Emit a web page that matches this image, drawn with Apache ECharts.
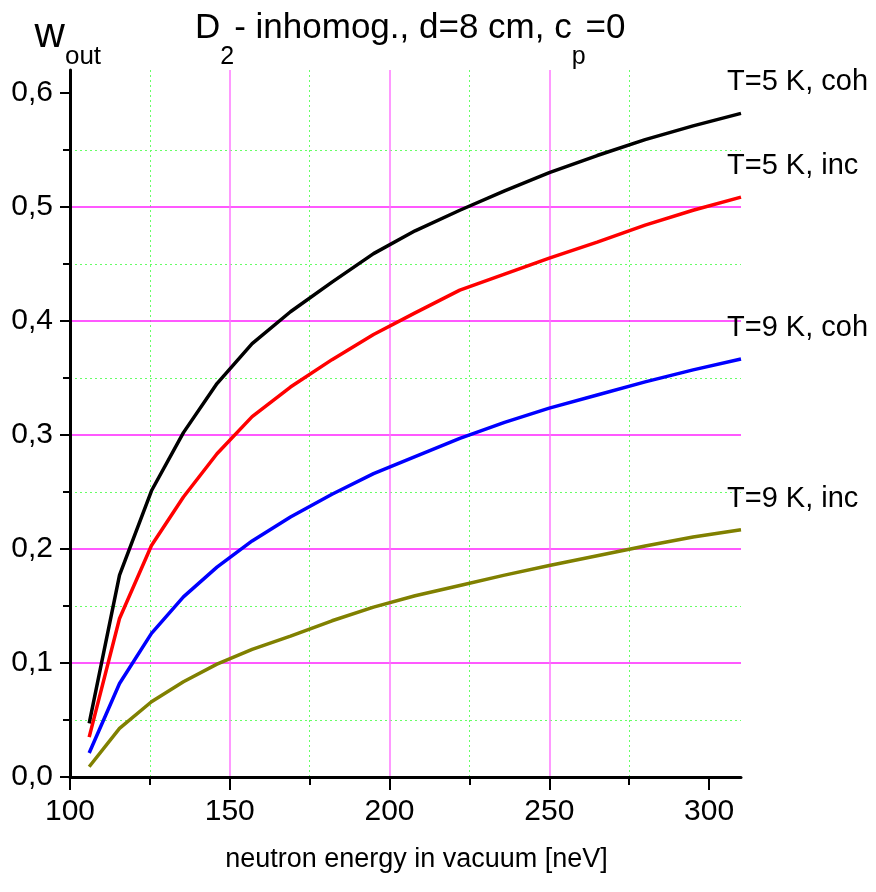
<!DOCTYPE html>
<html>
<head>
<meta charset="utf-8">
<script src="https://cdn.jsdelivr.net/npm/echarts@6/dist/echarts.min.js"></script>
<style>
html,body{margin:0;padding:0;background:#fff;}
#chart{width:876px;height:892px;}
</style>
</head>
<body>
<div id="chart"></div>
<script>
const energy = [106, 115.5, 125.5, 135.5, 146, 157, 169, 182, 195, 208, 222, 236, 250, 265, 280, 295, 310];
const t5coh = [0.047, 0.177, 0.251, 0.302, 0.345, 0.380, 0.408, 0.434, 0.459, 0.479, 0.497, 0.514, 0.530, 0.545, 0.559, 0.571, 0.582];
const t5inc = [0.035, 0.139, 0.203, 0.2455, 0.2835, 0.316, 0.342, 0.366, 0.388, 0.407, 0.427, 0.441, 0.455, 0.469, 0.484, 0.497, 0.5085];
const t9coh = [0.021, 0.082, 0.126, 0.158, 0.184, 0.207, 0.228, 0.248, 0.266, 0.281, 0.297, 0.311, 0.3235, 0.335, 0.3465, 0.357, 0.3665];
const t9inc = [0.009, 0.0426, 0.066, 0.0835, 0.099, 0.112, 0.1235, 0.137, 0.149, 0.159, 0.168, 0.177, 0.1855, 0.194, 0.2025, 0.2105, 0.2169];
const seriesNames = ['T=5 K, coh', 'T=5 K, inc', 'T=9 K, coh', 'T=9 K, inc'];
const seriesColors = ['#000000', '#ff0000', '#0000ff', '#808000'];
const xMajorTicks = [100, 150, 200, 250, 300];
const xMinorTicks = [100, 125, 150, 175, 200, 225, 250, 275, 300];
const yMajorTicks = [0, 0.1, 0.2, 0.3, 0.4, 0.5, 0.6];
const yMinorTicks = [0, 0.05, 0.1, 0.15, 0.2, 0.25, 0.3, 0.35, 0.4, 0.45, 0.5, 0.55, 0.6];

const FONT = "'Liberation Sans Narrow', 'Arial Narrow', 'Liberation Sans', Arial, sans-serif";
const values = [t5coh, t5inc, t9coh, t9inc];
const GREEN = '#66ff66';
const MAGENTA = '#ff22ff';
const PINK = '#ff77ff';
const NONE = 'rgba(0,0,0,0)';

const chart = echarts.init(document.getElementById('chart'), null, {renderer: 'canvas'});

const series = values.map((vals, i) => ({
  name: seriesNames[i],
  type: 'line',
  xAxisIndex: 0,
  yAxisIndex: 0,
  data: energy.map((e, j) => [e, vals[j]]),
  showSymbol: false,
  symbol: 'none',
  lineStyle: {color: seriesColors[i], width: 3.5},
  itemStyle: {color: seriesColors[i]},
  z: 5,
  endLabel: {
    show: true,
    formatter: seriesNames[i],
    color: '#000',
    fontFamily: FONT,
    fontSize: 29,
    align: 'left',
    verticalAlign: 'middle',
    distance: 0,
    offset: [-14, -31]
  }
}));

chart.setOption({
  backgroundColor: '#fff',
  animation: false,
  title: {
    text: '{a|D}{s|2}{a|- inhomog., d=8 cm, c}{s|p}{a|=0}{h| }',
    left: 190,
    top: 6,
    textStyle: {
      fontWeight: 'normal',
      rich: {
        a: {fontFamily: FONT, fontSize: 35, fontWeight: 'normal', color: '#000', lineHeight: 40, verticalAlign: 'top'},
        s: {fontFamily: FONT, fontSize: 25, fontWeight: 'normal', color: '#000', lineHeight: 24, verticalAlign: 'bottom'},
        h: {fontSize: 1, lineHeight: 59, color: NONE}
      }
    }
  },
  grid: {left: 70, right: 135, top: 70, bottom: 115, containLabel: false},
  xAxis: [{
    type: 'value', min: 100, max: 310, interval: 50, z: 2,
    axisLine: {show: true, onZero: false, lineStyle: {color: '#000', width: 3}},
    axisTick: {show: true, inside: false, length: 13, customValues: xMajorTicks, lineStyle: {color: '#000', width: 2}},
    axisLabel: {show: true, customValues: xMajorTicks, margin: 20, color: '#000', fontFamily: FONT, fontSize: 30},
    splitLine: {show: true, showMinLine: false, showMaxLine: false, lineStyle: {color: [PINK], width: 1.5}},
    name: 'neutron energy in vacuum [neV]',
    nameLocation: 'middle',
    nameGap: 69,
    nameTextStyle: {color: '#000', fontFamily: FONT, fontSize: 27, padding: [0, 0, 0, 22]}
  }, {
    type: 'value', min: 100, max: 310, interval: 25, z: 1, position: 'bottom',
    axisLine: {show: false},
    axisTick: {show: true, inside: false, length: 8, customValues: xMinorTicks, lineStyle: {color: '#000', width: 2}},
    axisLabel: {show: false},
    splitLine: {show: true, showMinLine: false, showMaxLine: false, lineStyle: {color: [GREEN, NONE], width: 1, type: [2, 3]}}
  }],
  yAxis: [{
    type: 'value', min: 0, max: 0.62, interval: 0.1, z: 2,
    axisLine: {show: true, onZero: false, lineStyle: {color: '#000', width: 3}},
    axisTick: {show: true, inside: false, length: 10, customValues: yMajorTicks, lineStyle: {color: '#000', width: 2}},
    axisLabel: {show: true, customValues: yMajorTicks, margin: 17, color: '#000', fontFamily: FONT, fontSize: 30,
      formatter: v => v.toFixed(1).replace('.', ',')},
    splitLine: {show: true, showMinLine: false, showMaxLine: false, lineStyle: {color: [MAGENTA], width: 1.5, opacity: 1}},
    name: '{w|w}{s|out}{h| }',
    nameLocation: 'end',
    nameGap: 0,
    nameTextStyle: {
      align: 'center',
      verticalAlign: 'bottom',
      padding: [0, 0, 0, -4],
      rich: {
        w: {fontFamily: FONT, fontSize: 42, color: '#000', lineHeight: 40, verticalAlign: 'top'},
        s: {fontFamily: FONT, fontSize: 26, color: '#000', lineHeight: 26, verticalAlign: 'bottom'},
        h: {fontSize: 1, lineHeight: 56, color: NONE}
      }
    }
  }, {
    type: 'value', min: 0, max: 0.62, interval: 0.05, z: 1, position: 'left',
    axisLine: {show: false},
    axisTick: {show: true, inside: false, length: 7, customValues: yMinorTicks, lineStyle: {color: '#000', width: 2}},
    axisLabel: {show: false},
    splitLine: {show: true, showMinLine: false, showMaxLine: false, lineStyle: {color: [GREEN, NONE], width: 1, type: [2, 3]}}
  }],
  series: series
});
</script>
</body>
</html>
